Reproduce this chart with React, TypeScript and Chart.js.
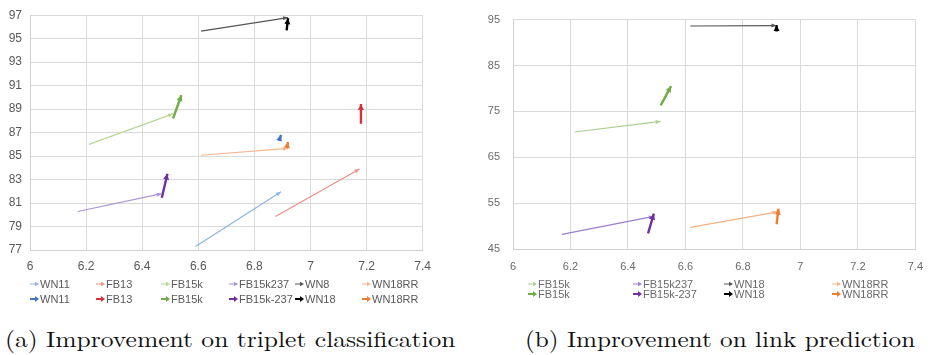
import React, { useEffect, useRef } from "react";
import { Chart, registerables } from "chart.js";

Chart.register(...registerables);

// ---------- (a) Triplet classification ----------
const tcThinLabels = ["WN11", "FB13", "FB15k", "FB15k237", "WN8", "WN18RR"];
const tcThickLabels = ["WN11", "FB13", "FB15k", "FB15k-237", "WN18", "WN18RR"];
const tcThinStartX = [6.59, 6.875, 6.21, 6.17, 6.61, 6.61];
const tcThinStartY = [77.3, 79.86, 86.0, 80.28, 95.65, 85.07];
const tcThinEndX = [6.895, 7.175, 6.51, 6.47, 6.92, 6.92];
const tcThinEndY = [81.96, 83.9, 88.6, 81.8, 96.8, 85.66];
const tcThickStartX = [6.888, 7.18, 6.51, 6.47, 6.915, 6.915];
const tcThickStartY = [86.3, 87.76, 88.2, 81.45, 95.7, 85.6];
const tcThickEndX = [6.895, 7.18, 6.54, 6.49, 6.92, 6.92];
const tcThickEndY = [86.8, 89.44, 90.2, 83.5, 96.75, 86.2];
const tcThinColors = ["#8fb4e3", "#ee8e86", "#b7d795", "#a995d3", "#555555", "#f6b68c"];
const tcThickColors = ["#4472c4", "#d6323c", "#70ad47", "#7030a0", "#000000", "#ed7d31"];
const tcXMin = 6, tcXMax = 7.4, tcXStep = 0.2;
const tcYMin = 77, tcYMax = 97, tcYStep = 2;

// ---------- (b) Link prediction ----------
const lpThinLabels = ["FB15k", "FB15k237", "WN18", "WN18RR"];
const lpThickLabels = ["FB15k", "FB15k-237", "WN18", "WN18RR"];
const lpThinStartX = [6.214, 6.17, 6.617, 6.617];
const lpThinStartY = [70.5, 48.2, 93.6, 49.7];
const lpThinEndX = [6.514, 6.49, 6.917, 6.92];
const lpThinEndY = [72.8, 52.1, 93.7, 53.1];
const lpThickStartX = [6.514, 6.47, 6.917, 6.917];
const lpThickStartY = [76.3, 48.4, 92.4, 50.4];
const lpThickEndX = [6.55, 6.49, 6.917, 6.924];
const lpThickEndY = [80.5, 52.7, 93.8, 53.8];
const lpThinColors = ["#a9d18e", "#9a7fcc", "#555555", "#f4b183"];
const lpThickColors = ["#70ad47", "#7030a0", "#000000", "#ed7d31"];
const lpXMin = 6, lpXMax = 7.4, lpXStep = 0.2;
const lpYMin = 45, lpYMax = 95, lpYStep = 10;

const captionA = "(a) Improvement on triplet classification";
const captionB = "(b) Improvement on link prediction";

const arrowPlugin = {
  id: "arrowheads",
  afterDatasetsDraw(chart: any) {
    const ctx = chart.ctx;
    chart.data.datasets.forEach((ds: any, i: number) => {
      const meta = chart.getDatasetMeta(i);
      const pts = meta.data;
      if (!pts || pts.length < 2) return;
      const a = pts[pts.length - 2];
      const b = pts[pts.length - 1];
      const ang = Math.atan2(b.y - a.y, b.x - a.x);
      const L = ds.headLen || 5;
      const W = ds.headWidth || 2.5;
      ctx.save();
      ctx.fillStyle = ds.borderColor;
      ctx.translate(b.x, b.y);
      ctx.rotate(ang);
      ctx.beginPath();
      ctx.moveTo(0, 0);
      ctx.lineTo(-L, -W);
      ctx.lineTo(-L, W);
      ctx.closePath();
      ctx.fill();
      ctx.restore();
    });
  },
};

function buildDatasets(
  sx1: number[], sy1: number[], ex1: number[], ey1: number[], c1: string[], l1: string[],
  sx2: number[], sy2: number[], ex2: number[], ey2: number[], c2: string[], l2: string[]
) {
  const out: any[] = [];
  l1.forEach((lab, i) => {
    out.push({
      label: lab,
      data: [{ x: sx1[i], y: sy1[i] }, { x: ex1[i], y: ey1[i] }],
      borderColor: c1[i],
      backgroundColor: c1[i],
      borderWidth: 1.2,
      showLine: true,
      pointRadius: 0,
      headLen: 5,
      headWidth: 2,
    });
  });
  l2.forEach((lab, i) => {
    out.push({
      label: lab,
      data: [{ x: sx2[i], y: sy2[i] }, { x: ex2[i], y: ey2[i] }],
      borderColor: c2[i],
      backgroundColor: c2[i],
      borderWidth: 2.4,
      showLine: true,
      pointRadius: 0,
      headLen: 6,
      headWidth: 3,
    });
  });
  return out;
}

function fmt(v: any) {
  return String(Number(Number(v).toFixed(1)));
}

function makeOptions(o: any) {
  return {
    responsive: false,
    animation: false,
    devicePixelRatio: 1,
    layout: { padding: o.padding },
    plugins: { legend: { display: false }, tooltip: { enabled: false } },
    scales: {
      x: {
        type: "linear",
        min: o.xMin,
        max: o.xMax,
        ticks: {
          stepSize: o.xStep,
          callback: fmt,
          color: o.tickColor,
          font: { family: "Liberation Sans, Arial, sans-serif", size: o.fontSize },
          padding: o.xPad,
          maxRotation: 0,
        },
        grid: { color: "#d9d9d9", drawTicks: false },
        border: { color: "#d0d0d0" },
        afterFit: (s: any) => { s.height = o.xAxisH; },
      },
      y: {
        type: "linear",
        min: o.yMin,
        max: o.yMax,
        ticks: {
          stepSize: o.yStep,
          callback: fmt,
          color: o.tickColor,
          font: { family: "Liberation Sans, Arial, sans-serif", size: o.fontSize },
          padding: o.yPad,
        },
        grid: { color: "#d9d9d9", drawTicks: false },
        border: { color: "#d0d0d0" },
        afterFit: (s: any) => { s.width = o.yAxisW; },
      },
    },
  };
}

function ChartBox(props: { left: number; width: number; height: number; datasets: any[]; options: any }) {
  const ref = useRef<HTMLCanvasElement | null>(null);
  useEffect(() => {
    if (!ref.current) return;
    const chart = new Chart(ref.current, {
      type: "scatter",
      data: { datasets: props.datasets },
      options: props.options,
      plugins: [arrowPlugin],
    } as any);
    return () => chart.destroy();
  }, []);
  return (
    <canvas
      ref={ref}
      width={props.width}
      height={props.height}
      style={{ position: "absolute", left: props.left, top: 0, width: props.width, height: props.height }}
    />
  );
}

function LegendItem(p: { x: number; y: number; color: string; thick: boolean; text: string; textColor: string }) {
  return (
    <div
      style={{
        position: "absolute",
        left: p.x,
        top: p.y - 7,
        height: 14,
        display: "flex",
        alignItems: "center",
        font: "11px 'Liberation Sans', Arial, sans-serif",
        color: p.textColor,
        whiteSpace: "nowrap",
      }}
    >
      <svg width={9} height={8} style={{ marginRight: 1 }}>
        <line x1={0} y1={4} x2={6} y2={4} stroke={p.color} strokeWidth={p.thick ? 2 : 1} />
        <polygon points={p.thick ? "9,4 5,1 5,7" : "9,4 5,1.8 5,6.2"} fill={p.color} />
      </svg>
      <span>{p.text}</span>
    </div>
  );
}

function Caption(p: { left: number; top: number; width: number; text: string }) {
  const ref = useRef<HTMLDivElement | null>(null);
  useEffect(() => {
    const el = ref.current;
    if (!el) return;
    const w = el.scrollWidth;
    if (w > 0) el.style.transform = `scaleX(${p.width / w})`;
  }, []);
  return (
    <div
      ref={ref}
      style={{
        position: "absolute",
        left: p.left,
        top: p.top,
        font: "22px 'Latin Modern Roman', 'CMU Serif', 'Liberation Serif', serif",
        color: "#111",
        whiteSpace: "nowrap",
        transformOrigin: "0 0",
        display: "inline-block",
      }}
    >
      {p.text}
    </div>
  );
}

const tcLegendX = [30, 96, 161, 229, 295, 362];
const lpLegendX = [528, 633, 724, 832];

export default function App() {
  const tcData = buildDatasets(
    tcThinStartX, tcThinStartY, tcThinEndX, tcThinEndY, tcThinColors, tcThinLabels,
    tcThickStartX, tcThickStartY, tcThickEndX, tcThickEndY, tcThickColors, tcThickLabels
  );
  const lpData = buildDatasets(
    lpThinStartX, lpThinStartY, lpThinEndX, lpThinEndY, lpThinColors, lpThinLabels,
    lpThickStartX, lpThickStartY, lpThickEndX, lpThickEndY, lpThickColors, lpThickLabels
  );
  const tcOpts = makeOptions({
    padding: { top: 12, right: 17, left: 0, bottom: 0 },
    xMin: tcXMin, xMax: tcXMax, xStep: tcXStep,
    yMin: tcYMin, yMax: tcYMax, yStep: tcYStep,
    tickColor: "#595959", fontSize: 12, xPad: 9, yPad: 8, xAxisH: 30, yAxisW: 30,
  });
  const lpOpts = makeOptions({
    padding: { top: 16, right: 14, left: 0, bottom: 0 },
    xMin: lpXMin, xMax: lpXMax, xStep: lpXStep,
    yMin: lpYMin, yMax: lpYMax, yStep: lpYStep,
    tickColor: "#6a6a6a", fontSize: 11, xPad: 11, yPad: 13, xAxisH: 31, yAxisW: 43,
  });
  return (
    <div style={{ position: "fixed", left: 0, top: 0, width: 934, height: 355, background: "#fff", overflow: "hidden" }}>
      <ChartBox left={0} width={440} height={280} datasets={tcData} options={tcOpts} />
      <ChartBox left={470} width={464} height={280} datasets={lpData} options={lpOpts} />
      {tcThinLabels.map((t, i) => (
        <LegendItem key={"a1" + i} x={tcLegendX[i]} y={284} color={tcThinColors[i]} thick={false} text={t} textColor="#595959" />
      ))}
      {tcThickLabels.map((t, i) => (
        <LegendItem key={"a2" + i} x={tcLegendX[i]} y={299} color={tcThickColors[i]} thick={true} text={t} textColor="#595959" />
      ))}
      {lpThinLabels.map((t, i) => (
        <LegendItem key={"b1" + i} x={lpLegendX[i]} y={284} color={lpThinColors[i]} thick={false} text={t} textColor="#6a6a6a" />
      ))}
      {lpThickLabels.map((t, i) => (
        <LegendItem key={"b2" + i} x={lpLegendX[i]} y={294} color={lpThickColors[i]} thick={true} text={t} textColor="#6a6a6a" />
      ))}
      <Caption left={5} top={322} width={450} text={captionA} />
      <Caption left={525} top={322} width={390} text={captionB} />
    </div>
  );
}
